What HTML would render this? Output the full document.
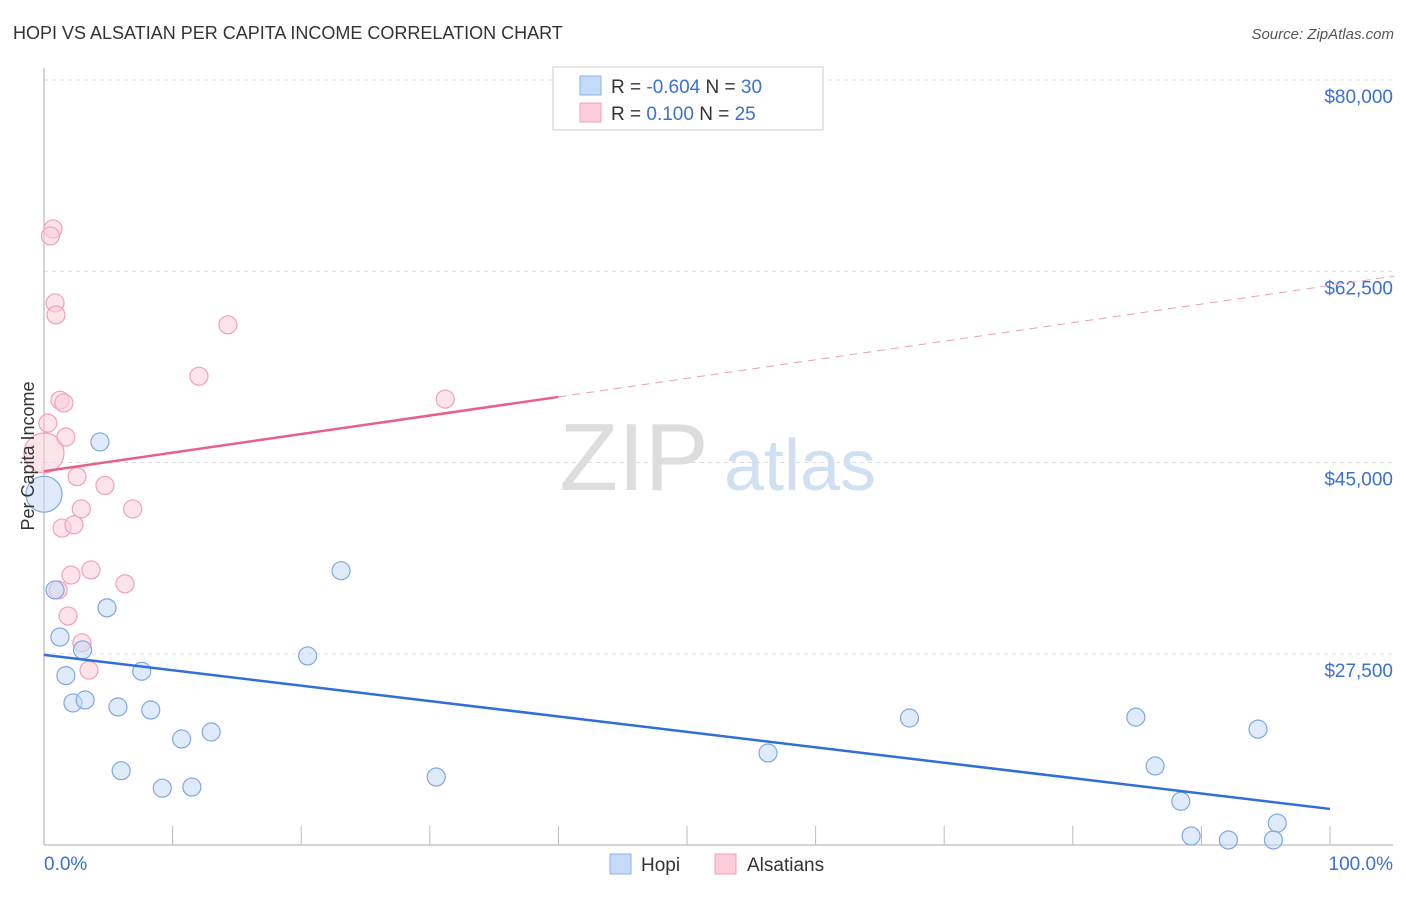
<!DOCTYPE html>
<html><head><meta charset="utf-8"><style>
body{margin:0;background:#fff;font-family:"Liberation Sans",sans-serif;}
svg text{font-family:"Liberation Sans",sans-serif;}
</style></head><body>
<svg id="chart" width="1406" height="892" xmlns="http://www.w3.org/2000/svg">
<text x="13" y="39" font-size="18" fill="#333">HOPI VS ALSATIAN PER CAPITA INCOME CORRELATION CHART</text>
<text x="1394" y="39" font-size="15" fill="#555" text-anchor="end" font-style="italic">Source: ZipAtlas.com</text>
<g>
<text x="634" y="490" font-size="96" fill="#ddd" text-anchor="middle" font-family="Liberation Serif">ZIP</text>
<text x="800" y="490" font-size="72" fill="#cfe0f3" text-anchor="middle">atlas</text>
</g>
<g id="grid"></g>
<g id="axes"></g>
<g id="marks"></g>
<text transform="translate(34,456) rotate(-90)" font-size="18" fill="#333" text-anchor="middle">Per Capita Income</text>
<g>
<rect x="553" y="67" width="270" height="63" fill="#fff" stroke="#ccc"/>
<rect x="580" y="76" width="21" height="19" fill="#c5daf6" stroke="#8ab2e8"/>
<rect x="580" y="103" width="21" height="19" fill="#fbcdda" stroke="#f0a0b8"/>
<text x="611" y="93" font-size="19" fill="#333">R = <tspan fill="#3a70d0">-0.604</tspan>   N = <tspan fill="#3a70d0">30</tspan></text>
<text x="611" y="120" font-size="19" fill="#333">R =   <tspan fill="#3a70d0">0.100</tspan>   N =  <tspan fill="#3a70d0">25</tspan></text>
</g>
<g>
<rect x="610" y="854" width="21" height="20" fill="#c5daf6" stroke="#8ab2e8"/>
<text x="641" y="871" font-size="19" fill="#333">Hopi</text>
<rect x="715" y="854" width="21" height="20" fill="#fbcdda" stroke="#f0a0b8"/>
<text x="747" y="871" font-size="19" fill="#333">Alsatians</text>
</g>
</svg>
<script>
const yTicks=[80000,62500,45000,27500];
const yTickLabels=["$80,000","$62,500","$45,000","$27,500"];
const xTickLabels=["0.0%","100.0%"];
const hopiX=[0,0.86,1.24,1.7,2.25,3.2,3.0,4.35,4.9,5.75,6.0,7.6,8.3,9.2,10.7,11.5,13.0,20.5,23.1,30.5,56.3,67.3,84.9,86.4,88.4,89.2,92.1,94.4,95.9,95.6];
const hopiY=[42100,33340,29030,25500,23000,23270,27850,46880,31700,22630,16800,25900,22350,15200,19700,15300,20340,27300,35100,16220,18420,21620,21700,17230,14000,10830,10460,20600,12000,10460];
const alsX=[0,0.7,0.5,0.86,0.93,14.3,12.05,31.2,1.24,1.55,0.3,1.7,2.57,4.74,2.9,6.9,1.4,2.33,3.65,2.1,6.3,1.1,1.87,2.95,3.5];
const alsY=[45870,66370,65730,59600,58500,57600,52900,50800,50700,50450,48600,47330,43700,42900,40750,40750,39000,39300,35170,34700,33900,33340,30960,28500,26000];
const hopiTrend=[27400,13300];
const alsTrend=[44200,61200];
const NS="http://www.w3.org/2000/svg";
const X=p=>44+p*12.86;
const Y=v=>80+(80000-v)*765/70000;
function mk(t,a,parent){const e=document.createElementNS(NS,t);for(const k in a)e.setAttribute(k,a[k]);document.getElementById(parent).appendChild(e);return e;}
yTicks.forEach((v,i)=>{
 const g=mk('line',{x1:44,x2:1393,y1:Y(v),y2:Y(v),stroke:'#ddd','stroke-dasharray':'4,4'},'grid');
 
 
 const t=mk('text',{x:1393,y:Y(v)+23,'font-size':19,fill:'#3a70d0','text-anchor':'end'},'axes');
 t.textContent=yTickLabels[i];
 
 
});
let ax=mk('line',{x1:44,x2:44,y1:68,y2:845,stroke:'#aaa'},'axes');


ax=mk('line',{x1:44,x2:1393,y1:845,y2:845,stroke:'#aaa'},'axes');


for(let i=1;i<=10;i++){const t=mk('line',{x1:X(i*10),x2:X(i*10),y1:826,y2:845,stroke:'#bbb'},'axes');
 
 }
[[0,'start',44],[1,'end',1393]].forEach(([i,a,x])=>{const t=mk('text',{x:x,y:870,'font-size':19,fill:'#3a70d0','text-anchor':a},'axes');t.textContent=xTickLabels[i];
 
 });
function dot(x,y,r,f,s,name){const c=mk('circle',{cx:X(x),cy:Y(y),r:r,fill:f,'fill-opacity':0.55,stroke:s,'stroke-width':1.2},'marks');
 
 }
alsX.forEach((x,i)=>dot(x,alsY[i],i==0?20:9,'#fbcdda','#f0a0b8','alsatians-point'));
hopiX.forEach((x,i)=>dot(x,hopiY[i],i==0?18:9,'#c5daf6','#7fa8e0','hopi-point'));
let l=mk('line',{x1:X(0),y1:Y(hopiTrend[0]),x2:X(100),y2:Y(hopiTrend[1]),stroke:'#2f6fd6','stroke-width':2.5},'marks');


const aAt=p=>alsTrend[0]+(alsTrend[1]-alsTrend[0])*p/100;
l=mk('line',{x1:X(0),y1:Y(aAt(0)),x2:X(40),y2:Y(aAt(40)),stroke:'#e8608a','stroke-width':2.5},'marks');


l=mk('line',{x1:X(40),y1:Y(aAt(40)),x2:X(105),y2:Y(aAt(105)),stroke:'#e8a0b5','stroke-width':1,'stroke-dasharray':'8,6'},'marks');


</script>
</body></html>
